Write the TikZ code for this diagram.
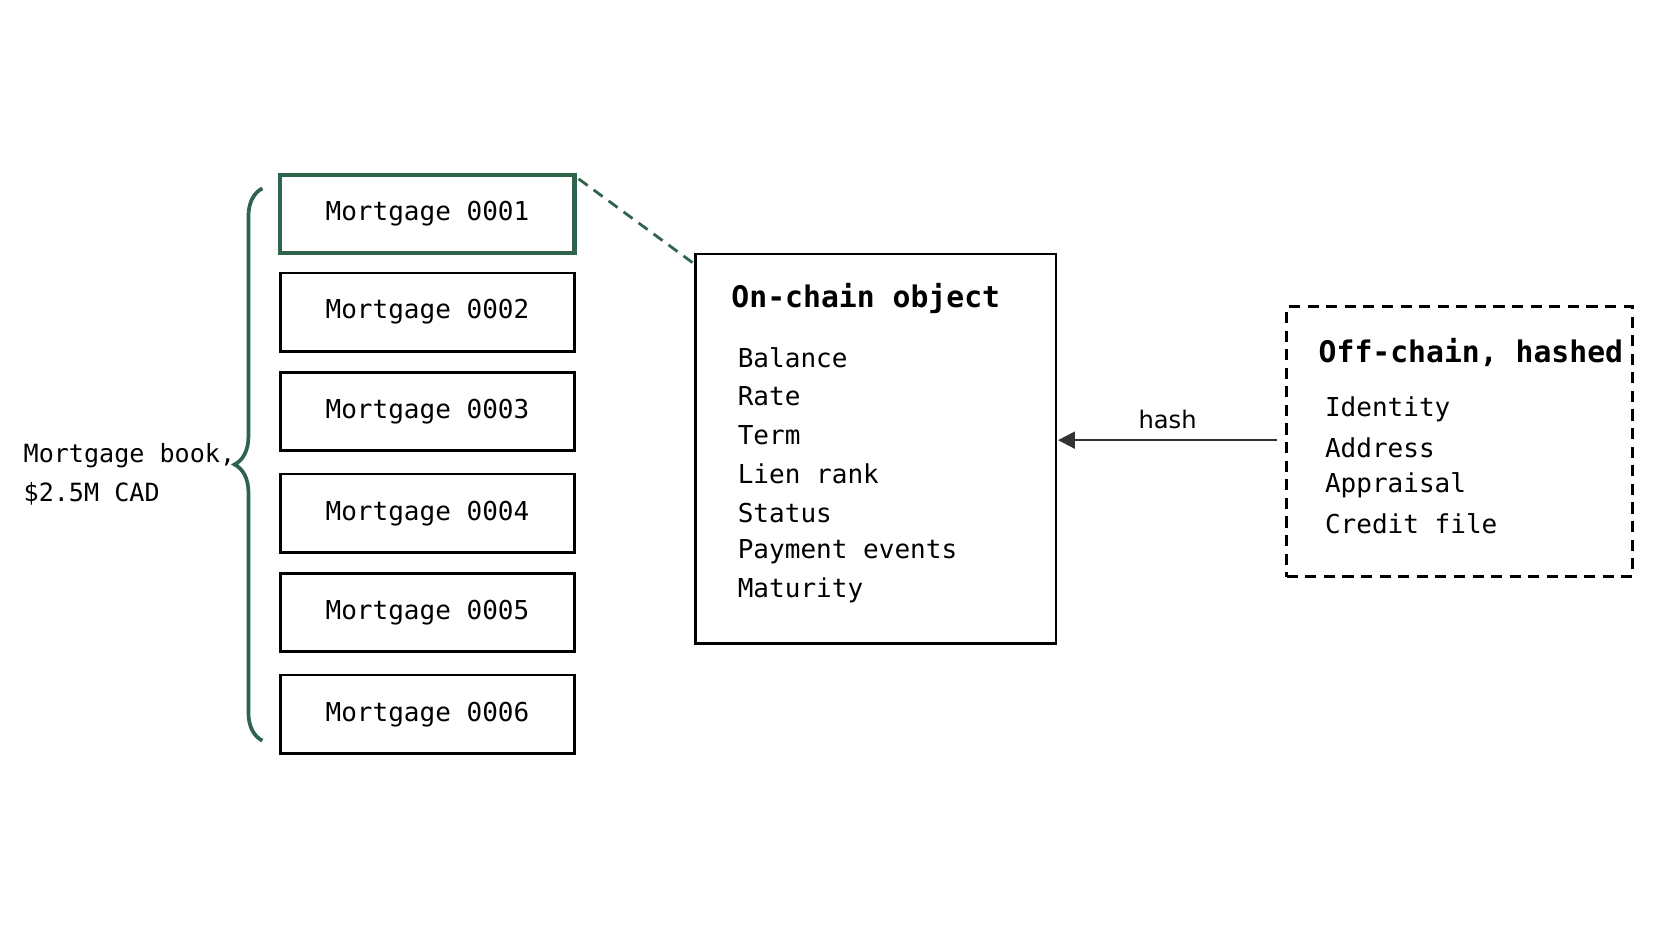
\documentclass[tikz,border=0pt]{standalone}
\usepackage{fontspec}
\setmainfont{DejaVu Sans}
\setmonofont{DejaVu Sans Mono}
\usetikzlibrary{positioning, decorations.pathreplacing, arrows.meta}
\definecolor{bookgreen}{RGB}{45,100,75}
\begin{document}
\begin{tikzpicture}[x=0.02cm,y=-0.02cm,
    mbox/.style={draw, line width=1.5pt, minimum width=5.56cm, minimum height=1.48cm,
      font=\fontsize{14}{16}\selectfont\ttfamily},
    item/.style={anchor=west, inner sep=0pt, font=\fontsize{14}{16}\selectfont\ttfamily},
    title/.style={anchor=west, inner sep=0pt, font=\fontsize{16}{18}\selectfont\ttfamily\bfseries},
    longdash/.style={dash pattern=on 6pt off 4pt}]
    \useasboundingbox (0,0) rectangle (1568,896);
    % mortgage book
    \node[mbox, draw=bookgreen, line width=2.2pt] (m1) at (404,202) {Mortgage 0001};
    \node[mbox] (m2) at (404,295) {Mortgage 0002};
    \node[mbox] (m3) at (404,389) {Mortgage 0003};
    \node[mbox] (m4) at (404,485) {Mortgage 0004};
    \node[mbox] (m5) at (404,579) {Mortgage 0005};
    \node[mbox] (m6) at (404,675) {Mortgage 0006};
    \coordinate (btop) at (248,178);
    \coordinate (bbot) at (248,700);
    \draw[bookgreen, line width=2pt, decorate,
          decoration={brace, amplitude=15pt}] (bbot) -- (btop);
    \node[item, font=\fontsize{13.5}{16}\selectfont\ttfamily] (book) at (22,431) {Mortgage book,};
    \node[item, font=\fontsize{13.5}{16}\selectfont\ttfamily] (cad) at (22,467) {\$2.5M CAD};
    % on-chain
    \node[draw, line width=1.5pt, minimum width=6.82cm, minimum height=7.36cm] (on) at (827.5,424) {};
    \coordinate (onc) at (657,250);
    \draw[bookgreen, line width=1.5pt, longdash] (m1.north east) ++(2,6) coordinate (m1c) -- (onc);
    \node[title] (ontitle) at (691,282) {On-chain object};
    \foreach \t [count=\i from 0] in {Balance, Rate, Term, Lien rank, Status, Payment events, Maturity}
      \node[item] (on\i) at (697,338+36.7*\i) {\t};
    % off-chain
    \node[draw, longdash, line width=1.5pt, minimum width=6.54cm, minimum height=5.1cm] (off) at (1379.5,417.5) {};
    \node[title] (offtitle) at (1246,333) {Off-chain, hashed};
    \foreach \t [count=\i from 0] in {Identity, Address, Appraisal, Credit file}
      \node[item] (off\i) at (1252,387+36*\i) {\t};
    \coordinate (hs) at (1207,416);
    \coordinate (he) at (1000,416);
    \draw[-{Triangle[length=9pt,width=9pt]}, line width=1.2pt, draw=black!80] (hs) -- node[above=2pt, font=\fontsize{13}{15}\selectfont] {hash} (he);
\end{tikzpicture}
\end{document}
